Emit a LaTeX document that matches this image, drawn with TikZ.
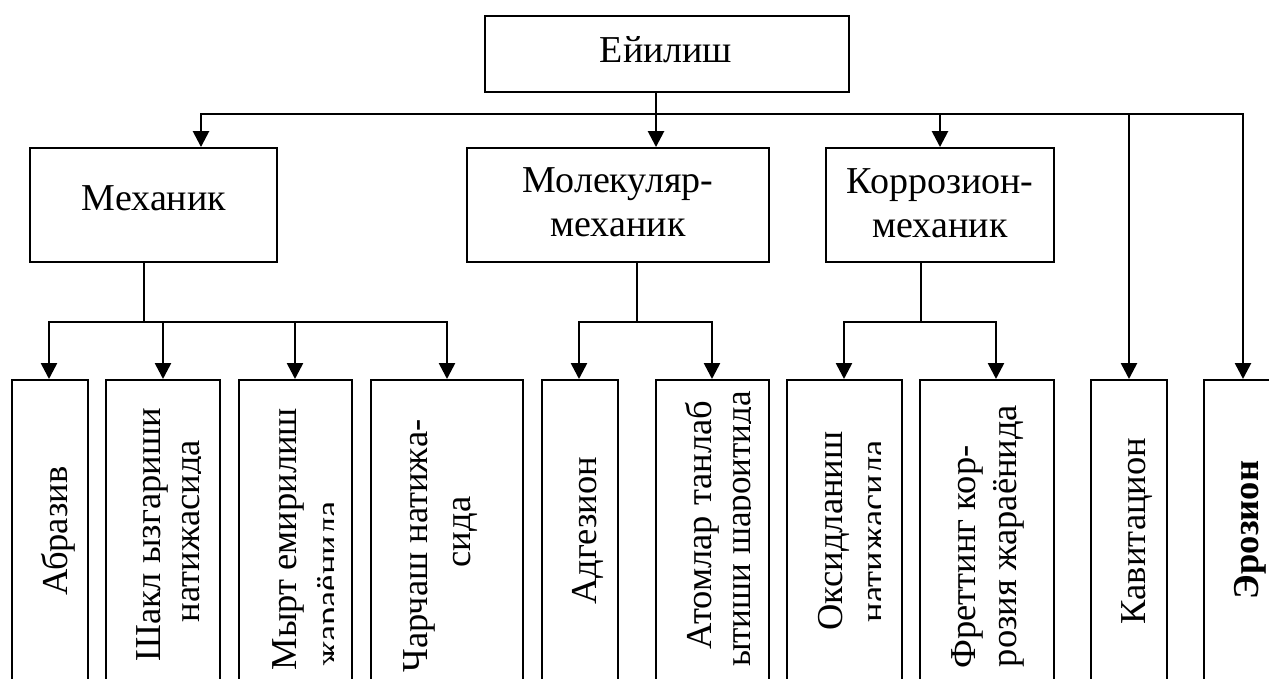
\documentclass[tikz,border=0pt]{standalone}
\usepackage{fontspec}
\setmainfont{Liberation Serif}
\usetikzlibrary{arrows.meta}
\begin{document}
\begin{tikzpicture}[x=1pt,y=-1pt,
  box/.style={draw, line width=1.9pt, rectangle, inner sep=0pt},
  bbox/.style={box, anchor=north, minimum height=340},
  txt/.style={inner sep=0pt, font=\fontsize{38}{44}\selectfont},
  vtxt/.style={inner sep=0pt, font=\fontsize{36.5}{42}\selectfont, rotate=90, anchor=base},
  conn/.style={line width=1.8pt, line cap=rect},
  arr/.style={line width=2.6pt, -{Triangle[length=16pt,width=16pt]}},
]
\useasboundingbox (0,0) rectangle (1269,678);
\clip (0,0) rectangle (1269,678);

% top level boxes
\node[box, minimum width=364, minimum height=76] (ey) at (667,54) {};
\node[box, minimum width=247, minimum height=114] (mex) at (153.5,205) {};
\node[box, minimum width=302, minimum height=114] (mol) at (618,205) {};
\node[box, minimum width=228, minimum height=114] (kor) at (940,205) {};

\node[txt, anchor=base] (tey) at (666,62) {Ейилиш};
\node[txt, anchor=base] (tmex) at (154,210) {Механик};
\node[txt, anchor=base] (tmol1) at (618,192) {Молекуляр-};
\node[txt, anchor=base] (tmol2) at (618,236) {механик};
\node[txt, anchor=base] (tkor1) at (940,193) {Коррозион-};
\node[txt, anchor=base] (tkor2) at (940,237) {механик};

% bottom boxes
\node[bbox, minimum width=76]  (abr) at (50,379) {};
\node[bbox, minimum width=114] (shk) at (163,379) {};
\node[bbox, minimum width=113] (myr) at (295.5,379) {};
\node[bbox, minimum width=152] (chr) at (447,379) {};
\node[bbox, minimum width=76]  (adg) at (580,379) {};
\node[bbox, minimum width=113] (atm) at (712.5,379) {};
\node[bbox, minimum width=115] (oks) at (844.5,379) {};
\node[bbox, minimum width=134] (frt) at (987,379) {};
\node[bbox, minimum width=76]  (kav) at (1129,379) {};
\node[bbox, minimum width=76]  (erz) at (1242,379) {};

% bottom texts
\node[vtxt] (t1) at (67,531) {Абразив};
\node[vtxt] (t2a) at (160,535) {Шакл ызгариши};
\begin{scope}
\clip (106,379) rectangle (200.5,678);
\node[vtxt] (t2b) at (199.5,531) {натижасида};
\end{scope}
\node[vtxt] (t3a) at (296,539) {Мырт емирилиш};
\begin{scope}
\clip (239,379) rectangle (333,678);
\node[vtxt] (t3b) at (340,584) {жараёнида};
\end{scope}
\node[vtxt] (t4a) at (427,546) {Чарчаш натижа-};
\node[vtxt] (t4b) at (470,532) {сида};
\node[vtxt] (t5) at (596,531) {Адгезион};
\node[vtxt] (t6a) at (711,525) {Атомлар\hspace{10pt}танлаб};
\begin{scope}
\clip (656,379) rectangle (750.5,678);
\node[vtxt] (t6b) at (750,529) {\scalebox{0.96}[1]{ытиши шароитида}};
\end{scope}
\node[vtxt] (t7a) at (842,531) {Оксидланиш};
\begin{scope}
\clip (787,379) rectangle (880,678);
\node[vtxt] (t7b) at (885,531) {натижасида};
\end{scope}
\node[vtxt] (t8a) at (975,557) {Фреттинг кор-};
\node[vtxt] (t8b) at (1016,536) {розия жараёнида};
\node[vtxt] (t9) at (1145,531) {Кавитацион};
\node[vtxt, font=\fontsize{36.5}{42}\selectfont\bfseries] (t10) at (1258,530) {Эрозион};

% top connectors
\coordinate (busL) at (201,114);
\coordinate (busR) at (1243,114);
\coordinate (sMol) at (656,114);
\coordinate (sKor) at (940,114);
\coordinate (sKav) at (1129,114);
\draw[conn] (busL) -- (busR);
\draw[arr] (ey.south -| sMol) -- (mol.north -| sMol);
\draw[arr] (busL) -- (mex.north -| busL);
\draw[arr] (sKor) -- (kor.north -| sKor);
\draw[arr] (sKav) -- (kav.north -| sKav);
\draw[arr] (busR) -- (erz.north -| busR);

% mechanic group
\coordinate (mSt) at (144,322);
\coordinate (mA) at (49,322);
\coordinate (mB) at (163,322);
\coordinate (mC) at (295,322);
\coordinate (mD) at (447,322);
\draw[conn] (mex.south -| mSt) -- (mSt);
\draw[conn] (mA) -- (mD);
\draw[arr] (mA) -- (abr.north -| mA);
\draw[arr] (mB) -- (shk.north -| mB);
\draw[arr] (mC) -- (myr.north -| mC);
\draw[arr] (mD) -- (chr.north -| mD);

% molecular group
\coordinate (lSt) at (637,322);
\coordinate (lA) at (579,322);
\coordinate (lB) at (712,322);
\draw[conn] (mol.south -| lSt) -- (lSt);
\draw[conn] (lA) -- (lB);
\draw[arr] (lA) -- (adg.north -| lA);
\draw[arr] (lB) -- (atm.north -| lB);

% corrosion group
\coordinate (kSt) at (921,322);
\coordinate (kA) at (844,322);
\coordinate (kB) at (996,322);
\draw[conn] (kor.south -| kSt) -- (kSt);
\draw[conn] (kA) -- (kB);
\draw[arr] (kA) -- (oks.north -| kA);
\draw[arr] (kB) -- (frt.north -| kB);
\end{tikzpicture}
\end{document}
